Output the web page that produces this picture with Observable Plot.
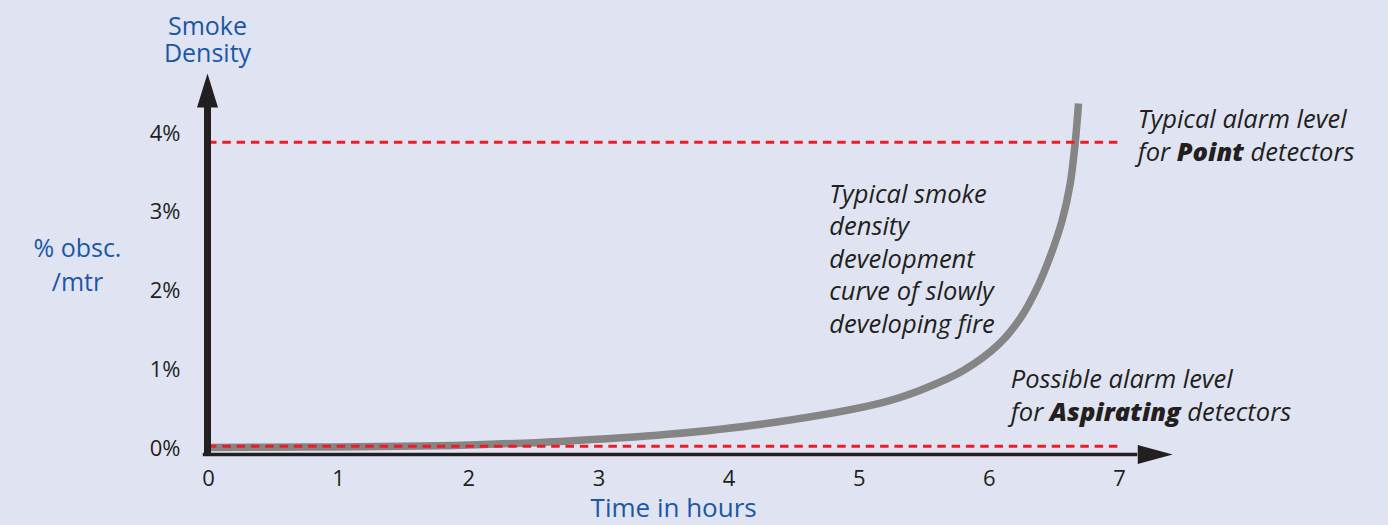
<!DOCTYPE html>
<html><head><meta charset="utf-8">
<script src="https://cdn.jsdelivr.net/npm/d3@7"></script>
<script src="https://cdn.jsdelivr.net/npm/@observablehq/plot@0.6"></script>
<style>
html,body{margin:0;padding:0;background:#e0e4f2;}
#chart svg{display:block;}
</style></head><body><div id="chart"></div>
<script>
// ---- data ----
const hours   = [0, 0.75, 1.48, 2.0, 2.7, 3.53, 4.34, 5.17, 5.47, 5.8, 6.07, 6.24, 6.37, 6.47, 6.56, 6.62, 6.66, 6.685];
const density = [0.013, 0.018, 0.027, 0.045, 0.09, 0.18, 0.33, 0.58, 0.74, 0.99, 1.32, 1.66, 2.05, 2.45, 2.9, 3.35, 3.89, 4.38];
const xTicks = [0, 1, 2, 3, 4, 5, 6, 7];
const xTickLabels = ["0", "1", "2", "3", "4", "5", "6", "7"];
const yTicks = [0, 1, 2, 3, 4];
const yTickLabels = ["0%", "1%", "2%", "3%", "4%"];
const alarmLevels = [3.89, 0.03];   // point detectors, aspirating detectors
const alarmEnd = 7.03;
const yTitle = "Smoke\nDensity";
const yUnit = "% obsc.\n/mtr";
const xTitle = "Time in hours";
const notePoint = "Typical alarm level\nfor Point detectors";
const noteCurve = "Typical smoke\ndensity\ndevelopment\ncurve of slowly\ndeveloping fire";
const noteAsp = "Possible alarm level\nfor Aspirating detectors";
const boldWords = ["Point", "Aspirating"];

// ---- layout (in data units) ----
const axisXEnd = 7.14, axisYEnd = 4.36, axisBase = -0.076;
const blue = "#1c57a5", ink = "#231f20", font = "Open Sans";

const curve = hours.map((h, i) => ({h, d: density[i]}));

const upHead = {draw(ctx) { ctx.moveTo(0, -34); ctx.lineTo(10.5, 0); ctx.lineTo(-10.5, 0); ctx.closePath(); }};
const rightHead = {draw(ctx) { ctx.moveTo(35, 0); ctx.lineTo(0, -9.5); ctx.lineTo(0, 9.5); ctx.closePath(); }};

const chart = Plot.plot({
  width: 1388, height: 525,
  marginLeft: 208, marginRight: 269, marginTop: 133, marginBottom: 77,
  style: {background: "transparent", fontFamily: font, color: ink},
  x: {domain: [0, 7]},
  y: {domain: [0, 4]},
  marks: [
    Plot.axisX({ticks: xTicks, tickFormat: d => xTickLabels[xTicks.indexOf(d)], tickSize: 0, tickPadding: 22, fontSize: 22, label: null, fill: ink, fontFamily: font}),
    Plot.axisY({ticks: yTicks, tickFormat: d => yTickLabels[yTicks.indexOf(d)], tickSize: 0, tickPadding: 28, fontSize: 22, label: null, fill: ink, fontFamily: font}),
    Plot.line(curve, {x: "h", y: "d", stroke: "#858585", strokeWidth: 7.5, curve: "catmull-rom", strokeLinecap: "butt"}),
    Plot.ruleY(alarmLevels, {y: d => d, x1: 0, x2: alarmEnd, stroke: "#ed1c24", strokeWidth: 3, strokeDasharray: "8.5,5.8"}),
    Plot.ruleX([0], {y1: axisBase - 0.01, y2: axisYEnd, stroke: ink, strokeWidth: 7, dx: -1}),
    Plot.ruleY([axisBase], {x1: -0.04, x2: axisXEnd, stroke: ink, strokeWidth: 3.3}),
    Plot.dot([0], {x: d => d, y: axisYEnd - 0.03, symbol: upHead, fill: ink, r: 1, dx: -1}),
    Plot.dot([axisXEnd], {x: d => d, y: axisBase, symbol: rightHead, fill: ink, r: 1}),
    Plot.text([yTitle], {x: 0, y: 4.914, text: d => d, dx: -1, fill: blue, fontSize: 25, lineAnchor: "bottom", lineHeight: 1.08, textAnchor: "middle", fontFamily: font}),
    Plot.text([yUnit], {x: -1.007, y: 1.994, text: d => d, fill: blue, fontSize: 25, lineAnchor: "bottom", lineHeight: 1.36, textAnchor: "middle", fontFamily: font}),
    Plot.text([xTitle], {x: 3.574, y: -0.876, text: d => d, fill: blue, fontSize: 26, lineAnchor: "bottom", textAnchor: "middle", fontFamily: font}),
    Plot.text([notePoint], {x: 7.14, y: 3.645, text: d => d, fill: ink, fontSize: 25.5, fontStyle: "italic", lineAnchor: "bottom", lineHeight: 1.3, textAnchor: "start", fontFamily: font}),
    Plot.text([noteCurve], {x: 4.77, y: 1.473, text: d => d, fill: ink, fontSize: 25.5, fontStyle: "italic", lineAnchor: "bottom", lineHeight: 1.27, textAnchor: "start", fontFamily: font}),
    Plot.text([noteAsp], {x: 6.165, y: 0.343, text: d => d, fill: ink, fontSize: 25.5, fontStyle: "italic", lineAnchor: "bottom", lineHeight: 1.33, textAnchor: "start", fontFamily: font})
  ]
});

// bold runs inside annotation lines
chart.querySelectorAll("tspan").forEach(t => {
  const s = t.textContent;
  for (const w of boldWords) {
    const i = s.indexOf(w);
    if (i >= 0) {
      t.textContent = "";
      const b = document.createElementNS("http://www.w3.org/2000/svg", "tspan");
      b.setAttribute("font-weight", "800");
      b.textContent = w;
      t.append(document.createTextNode(s.slice(0, i)), b, document.createTextNode(s.slice(i + w.length)));
    }
  }
});
document.getElementById("chart").append(chart);
</script></body></html>
